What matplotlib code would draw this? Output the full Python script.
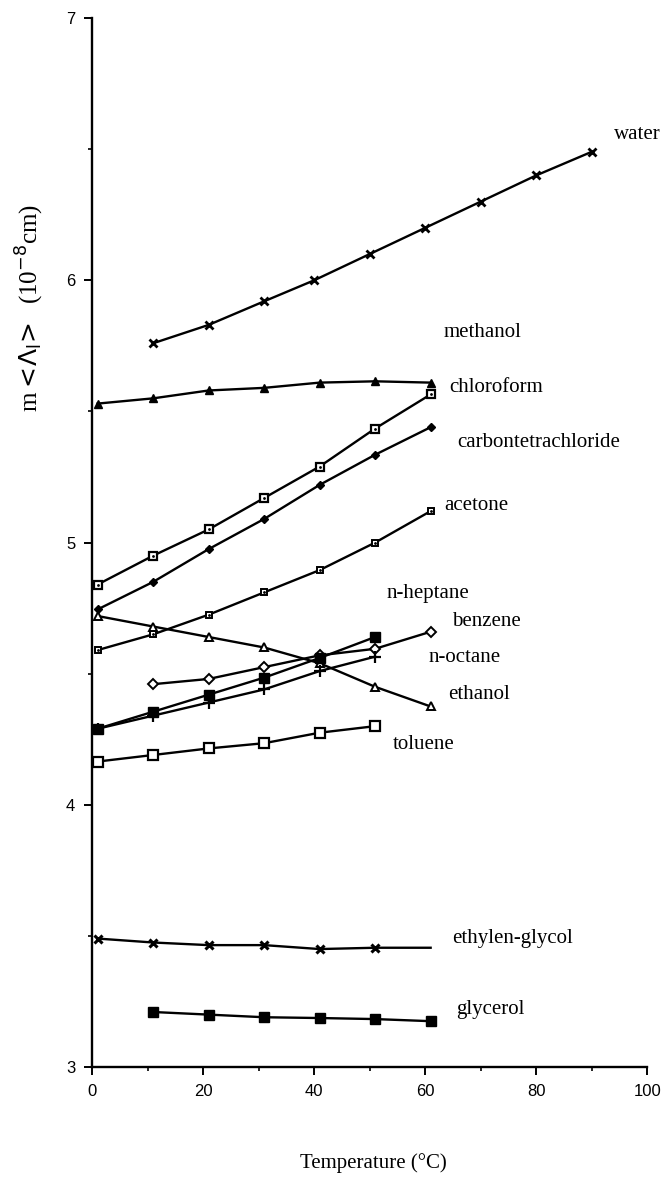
import matplotlib
matplotlib.use("Agg")
import matplotlib.pyplot as plt
from matplotlib.ticker import MultipleLocator

# temperatures (deg C)
t_water = [11, 21, 31, 40, 50, 60, 70, 80, 90]
t_full = [1, 11, 21, 31, 41, 51, 61]
t_from11 = [11, 21, 31, 41, 51, 61]
t_to51 = [1, 11, 21, 31, 41, 51]

water = [5.76, 5.83, 5.92, 6.00, 6.10, 6.20, 6.30, 6.40, 6.49]
methanol = [5.53, 5.55, 5.58, 5.59, 5.61, 5.615, 5.61]
chloroform = [4.84, 4.95, 5.05, 5.17, 5.29, 5.435, 5.565]
carbontet = [4.745, 4.85, 4.975, 5.09, 5.22, 5.335, 5.44]
acetone = [4.59, 4.65, 4.725, 4.81, 4.895, 5.00, 5.12]
heptane = [4.72, 4.68, 4.64, 4.60, 4.54, 4.45, 4.375]
benzene = [4.46, 4.48, 4.525, 4.57, 4.595, 4.66]
octane = [4.29, 4.355, 4.42, 4.485, 4.56, 4.64]
ethanol = [4.29, 4.34, 4.39, 4.44, 4.51, 4.565]
toluene = [4.165, 4.19, 4.215, 4.235, 4.275, 4.30]
ethglycol = [3.49, 3.475, 3.465, 3.465, 3.45, 3.455, 3.455]
glycerol = [3.21, 3.20, 3.19, 3.187, 3.183, 3.175]

labels = ["water", "methanol", "chloroform", "carbontetrachloride", "acetone",
          "n-heptane", "benzene", "n-octane", "ethanol", "toluene",
          "ethylen-glycol", "glycerol"]
label_x = [94, 63.4, 64.3, 65.8, 63.4, 53, 64.8, 60.7, 64.1, 54.2, 64.9, 65.6]
label_y = [6.555, 5.80, 5.59, 5.38, 5.14, 4.805, 4.70, 4.56, 4.42, 4.23, 3.49, 3.22]

serif = ["Liberation Serif", "DejaVu Serif"]

fig = plt.figure(figsize=(6.64, 11.83), dpi=100)
ax = fig.add_axes([0.1386, 0.098, 0.836, 0.8867])

lw = 1.7
k = "black"
ax.plot(t_water, water, color=k, lw=lw, marker="x", ms=6, mew=2)
ax.plot(t_full, methanol, color=k, lw=lw, marker="^", ms=6, mfc=k)
ax.plot(t_full, chloroform, color=k, lw=lw, marker="s", ms=5.5, mfc="white", mew=1.6)
ax.plot(t_full, chloroform, ls="none", marker=".", ms=2, color=k)
ax.plot(t_full, carbontet, color=k, lw=lw, marker="D", ms=4.5, mfc=k)
ax.plot(t_full, acetone, color=k, lw=lw, marker="s", ms=5, mfc="white", mew=1.4)
ax.plot(t_full, acetone, ls="none", marker=".", ms=2, color=k)
ax.plot(t_full, heptane, color=k, lw=lw, marker="^", ms=6, mfc="white", mew=1.4)
ax.plot(t_from11, benzene, color=k, lw=lw, marker="D", ms=5, mfc="white", mew=1.4)
ax.plot(t_to51, octane, color=k, lw=lw, marker="s", ms=6.5, mfc=k)
ax.plot(t_to51, ethanol, color=k, lw=lw, marker="+", ms=8, mew=1.6)
ax.plot(t_to51, toluene, color=k, lw=lw, marker="s", ms=7, mfc="white", mew=1.6)
ax.plot(t_full, ethglycol, color=k, lw=lw, marker="x", ms=6, mew=2.2,
        markevery=slice(0, 6))
ax.plot(t_from11, glycerol, color=k, lw=lw, marker="s", ms=6.5, mfc=k)

for name, x, y in zip(labels, label_x, label_y):
    ax.text(x, y, name, fontsize=15, family=serif, ha="left", va="center")

ax.set_xlim(0, 100)
ax.set_ylim(3, 7)
ax.spines["top"].set_visible(False)
ax.spines["right"].set_visible(False)
ax.spines["left"].set_linewidth(1.7)
ax.spines["bottom"].set_linewidth(1.7)

ax.xaxis.set_major_locator(MultipleLocator(20))
ax.xaxis.set_minor_locator(MultipleLocator(10))
ax.yaxis.set_major_locator(MultipleLocator(1))
ax.yaxis.set_minor_locator(MultipleLocator(0.5))
ax.tick_params(which="major", direction="out", length=6, width=1.4,
               labelsize=12, pad=6)
ax.tick_params(which="minor", direction="out", length=3, width=1.2)
for lab in ax.get_xticklabels() + ax.get_yticklabels():
    lab.set_family(["Liberation Sans", "DejaVu Sans"])

fig.text(0.045, 0.74, r"m$<\!\Lambda_{\rm l}\!>$  (10$^{-8}$cm)", rotation=90,
         fontsize=18, family=serif, ha="center", va="center")
fig.text(0.563, 0.017, "Temperature (°C)", fontsize=15, family=serif,
         ha="center", va="center")

fig.savefig("out.png", dpi=100)
